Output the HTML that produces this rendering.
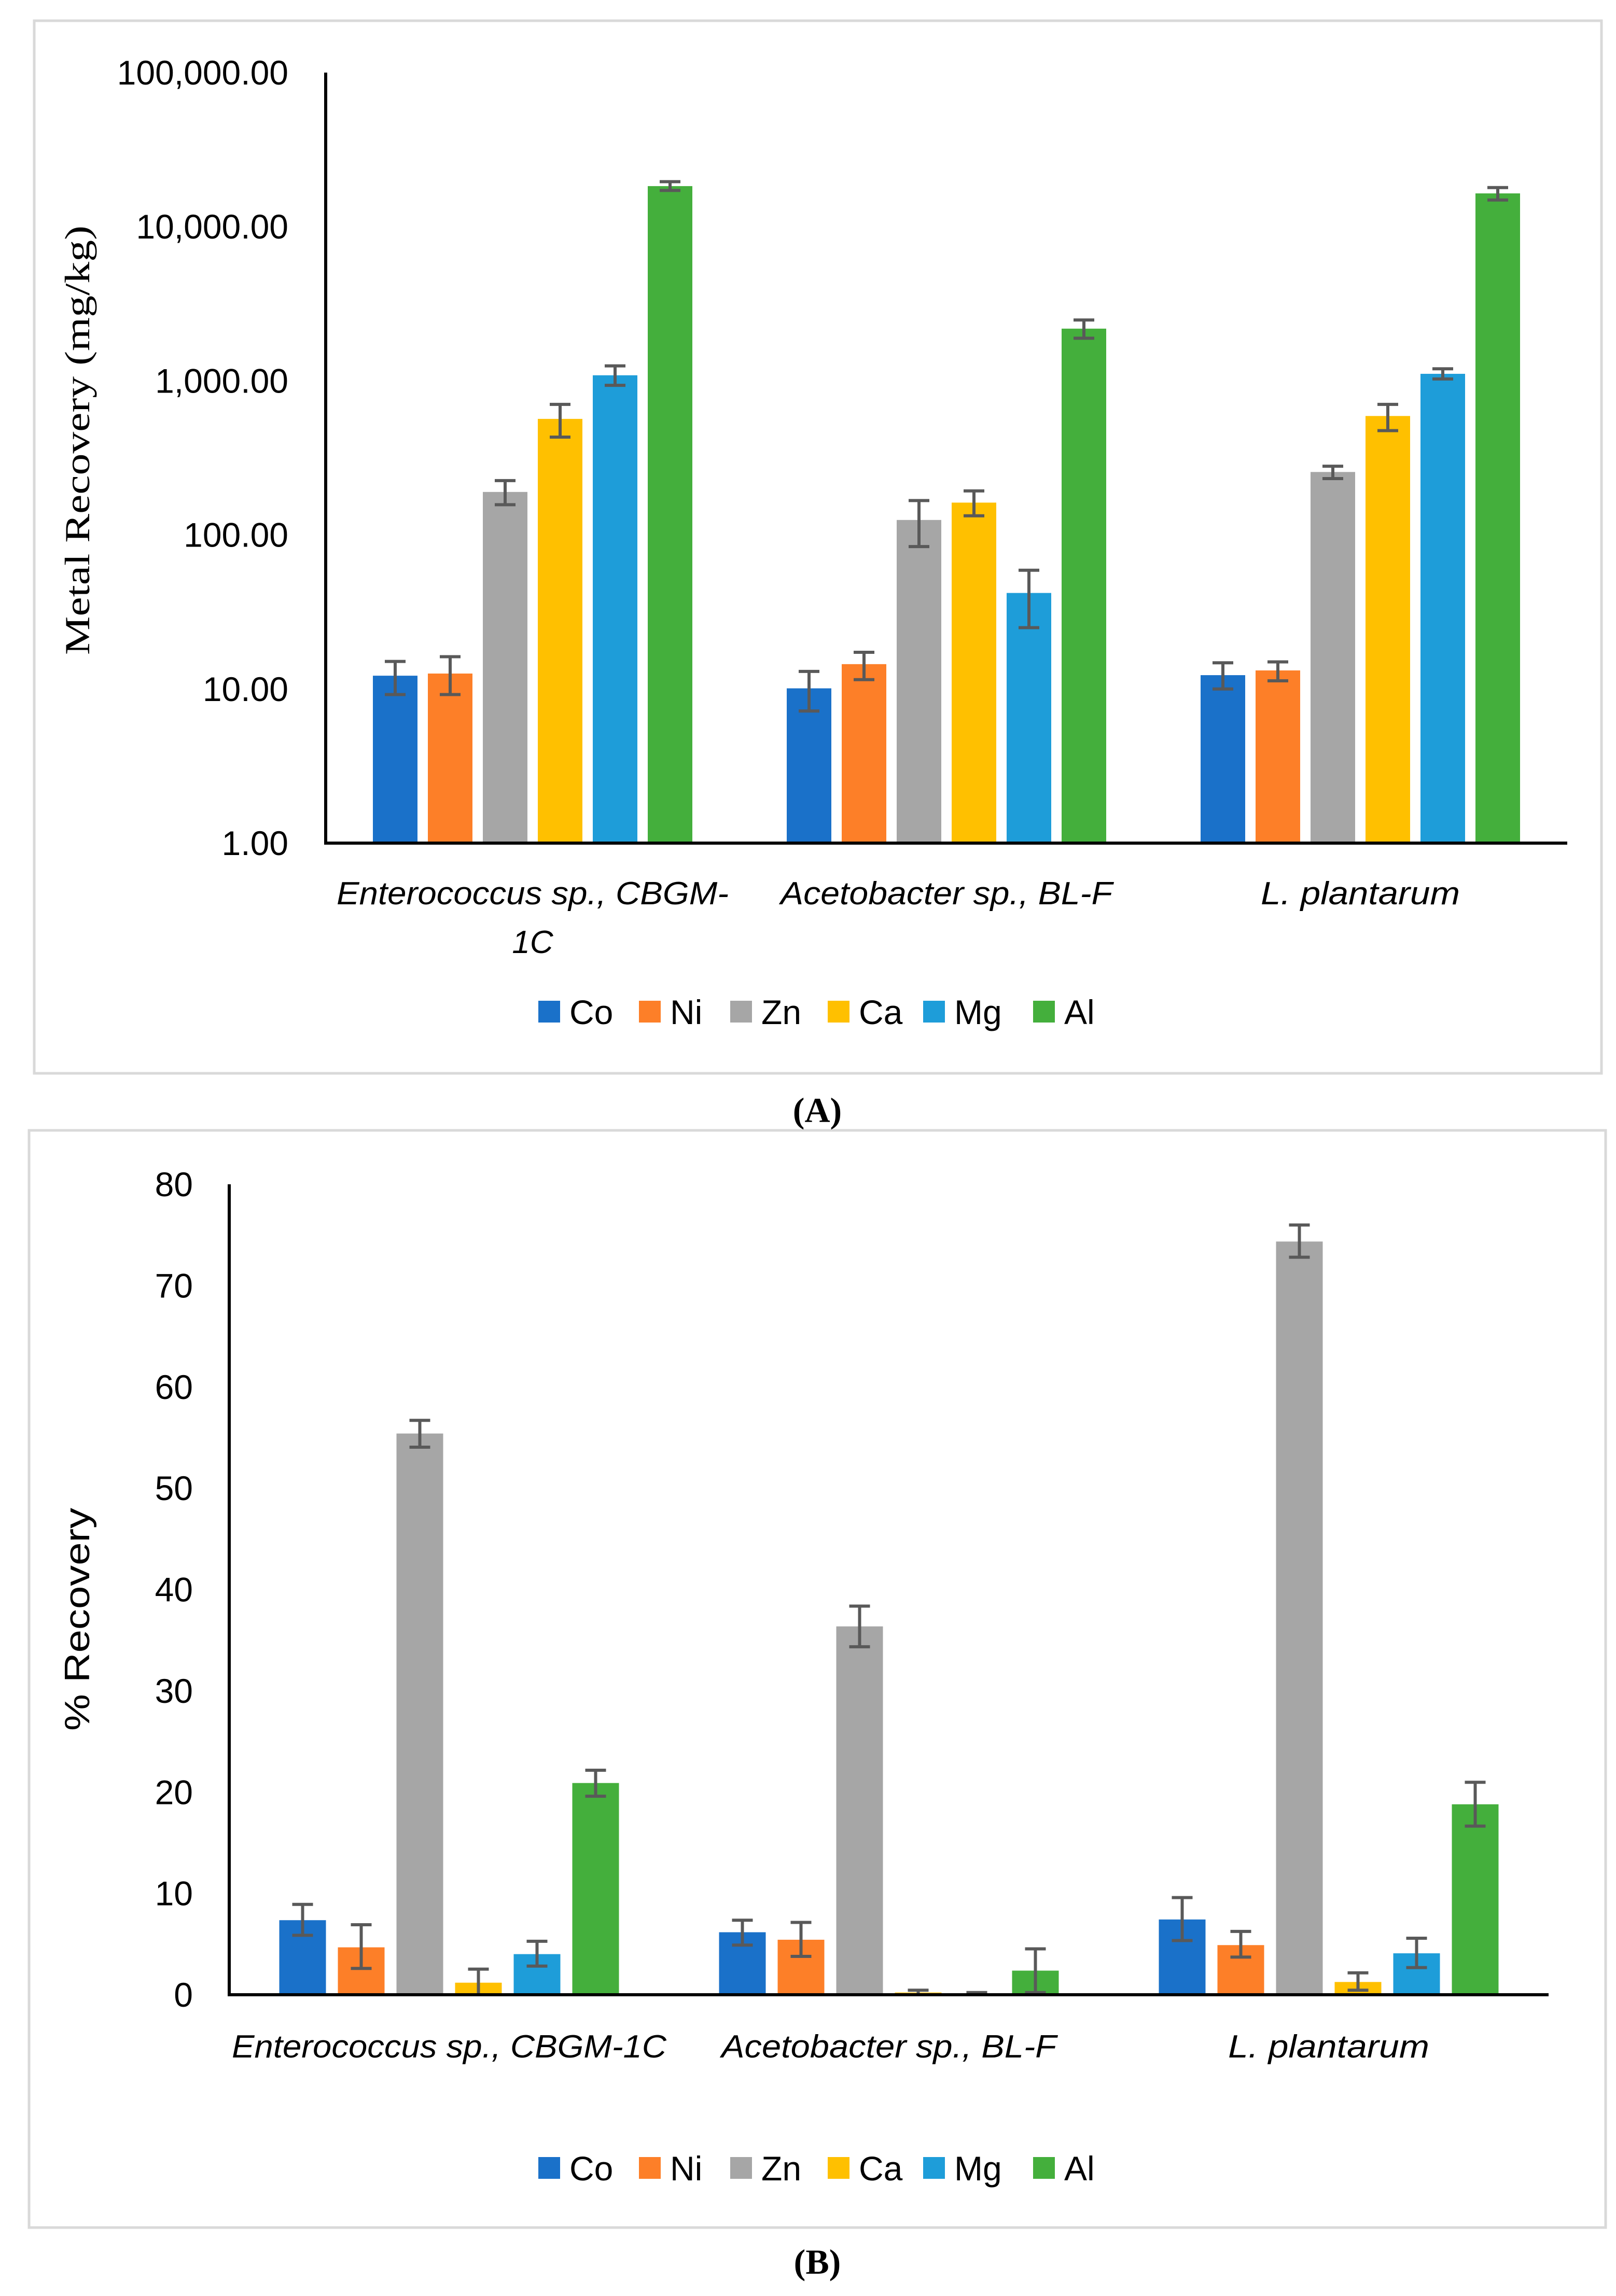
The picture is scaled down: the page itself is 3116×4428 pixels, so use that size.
<!DOCTYPE html>
<html><head><meta charset="utf-8">
<style>
html,body{margin:0;padding:0;background:#fff;}
svg{display:block;}
text{font-family:"Liberation Sans",sans-serif;fill:#000;}
.serif{font-family:"Liberation Serif",serif;}
</style></head>
<body>
<svg id="fig" xmlns="http://www.w3.org/2000/svg" width="3116" height="4428" viewBox="0 0 3116 4428">
  <rect x="66" y="40" width="3022" height="2030" fill="none" stroke="#d9d9d9" stroke-width="5"/>
  <rect x="56" y="2180" width="3040" height="2116" fill="none" stroke="#d9d9d9" stroke-width="5"/>
  <g id="chartA"></g>
  <g id="chartB"></g>
  <text class="serif" x="0" y="0" font-size="68" text-anchor="middle" textLength="828" lengthAdjust="spacingAndGlyphs" transform="translate(172,849) rotate(-90)">Metal Recovery (mg/kg)</text>
  <text x="0" y="0" font-size="68" text-anchor="middle" textLength="430" lengthAdjust="spacingAndGlyphs" transform="translate(172,3123) rotate(-90)">% Recovery</text>
  <text class="serif" x="1576" y="2164" font-size="68" font-weight="bold" text-anchor="middle">(A)</text>
  <text class="serif" x="1576" y="4385" font-size="68" font-weight="bold" text-anchor="middle">(B)</text>
</svg>
<script>
const series = ["Co","Ni","Zn","Ca","Mg","Al"];
const colors = ["#1A71C9","#FD7F28","#A6A6A6","#FFC000","#1E9DD9","#44AF3C"];
const categoriesA = [["Enterococcus sp., CBGM-","1C"],["Acetobacter sp., BL-F"],["L. plantarum"]];
const categoriesB = ["Enterococcus sp., CBGM-1C","Acetobacter sp., BL-F","L. plantarum"];
// Panel A (log scale) values per category
const valuesA = [[12.2,12.6,190,566,1086,18340],[10.1,14.5,125,162,42,2180],[12.3,13.2,256,591,1110,16450]];
const errHiA = [[15.1,16.2,225,703,1250,19600],[13,17.3,167,193,59,2480],[14.8,15,279,703,1197,17950]];
const errLoA = [[9.2,9.2,157,431,935,17200],[7.2,11.5,84,133,25,1890],[10,11.3,232,475,1028,14900]];
const ticksA = [1,10,100,1000,10000,100000];
const tickLabelsA = ["1.00","10.00","100.00","1,000.00","10,000.00","100,000.00"];
// Panel B (linear) values
const valuesB = [[7.36,4.68,55.4,1.19,4.01,20.9],[6.17,5.43,36.36,0.22,0.15,2.38],[7.43,4.9,74.35,1.26,4.09,18.8]];
const errHiB = [[8.92,6.91,56.7,2.53,5.28,22.16],[7.36,7.14,38.36,0.45,0.22,4.53],[9.59,6.25,75.98,2.16,5.58,20.97]];
const errLoB = [[5.87,2.6,54.05,0,2.83,19.6],[4.9,3.79,34.35,0,0.15,0.22],[5.35,3.72,72.8,0.45,2.68,16.65]];
const ticksB = [0,10,20,30,40,50,60,70,80];

const NS="http://www.w3.org/2000/svg";
function mk(tag,attrs,parent){const e=document.createElementNS(NS,tag);for(const k in attrs)e.setAttribute(k,attrs[k]);parent.appendChild(e);return e;}

function drawChart(g,cfg){
  const {x0,x1,yTop,yBot,yFn,vals,hi,lo,ticks,tickLabels,barW,step,tickX,catLabels,catY,legendY,widths,pfx}=cfg;
  const catW=(x1-x0)/3;
  ticks.forEach((t,i)=>{
    const tx=mk('text',{x:tickX,y:yFn(t)+23,'font-size':66,'text-anchor':'end'},g);
    
    
    tx.textContent=tickLabels[i];
  });
  vals.forEach((grp,ci)=>{
    const cx=x0+catW*(ci+0.5);
    const start=cx-(step*5+barW)/2;
    grp.forEach((v,si)=>{
      const bx=start+si*step;
      const by=yFn(v);
      const r=mk('rect',{x:bx,y:by,width:barW,height:Math.max(0,yBot-by),fill:colors[si]},g);
      
      
      const ex=bx+barW/2, yh=yFn(hi[ci][si]), yl=yFn(lo[ci][si]);
      const eb=mk('path',{d:`M${ex},${yh}V${yl}M${ex-20},${yh}H${ex+20}M${ex-20},${yl}H${ex+20}`,stroke:'#595959','stroke-width':6,fill:'none'},g);
      
      
    });
    const lines=catLabels[ci];
    lines.forEach((ln,li)=>{
      const attrs={x:cx,y:catY+li*94,'font-size':62,'font-style':'italic','text-anchor':'middle'};
      if(li===0&&widths[ci]){attrs.textLength=widths[ci];attrs.lengthAdjust='spacingAndGlyphs';}
      const t=mk('text',attrs,g);
      
      
      t.textContent=ln;
    });
  });
  const ax=mk('path',{d:`M${x0},${yTop}V${yBot}H${x1}`,stroke:'#000','stroke-width':6,fill:'none'},g);
  
  
  const lx=[1038,1232,1408,1596,1780,1992];
  series.forEach((s,i)=>{
    const sq=mk('rect',{x:lx[i],y:legendY-21,width:42,height:42,fill:colors[i]},g);
    
    
    const t=mk('text',{x:lx[i]+60,y:legendY+24,'font-size':66},g);
    
    
    t.textContent=s;
  });
}

const aTop=140,aBot=1626;
drawChart(document.getElementById('chartA'),{
  x0:628,x1:3022,yTop:aTop,yBot:aBot,
  yFn:v=>aBot-(Math.log10(Math.max(v,1)))*(aBot-aTop)/5,
  vals:valuesA,hi:errHiA,lo:errLoA,ticks:ticksA,tickLabels:tickLabelsA,
  barW:86,step:106,tickX:556,catLabels:categoriesA,catY:1744,legendY:1951,
  widths:[756,640,384],pfx:'a'
});
const bTop=2284,bBot=3847;
drawChart(document.getElementById('chartB'),{
  x0:442,x1:2986,yTop:bTop,yBot:bBot,
  yFn:v=>bBot-v*(bBot-bTop)/80,
  vals:valuesB,hi:errHiB,lo:errLoB,ticks:ticksB,tickLabels:ticksB.map(String),
  barW:90,step:113,tickX:372,catLabels:categoriesB.map(c=>[c]),catY:3968,legendY:4181,
  widths:[838,646,388],pfx:'b'
});
</script>
</body></html>
